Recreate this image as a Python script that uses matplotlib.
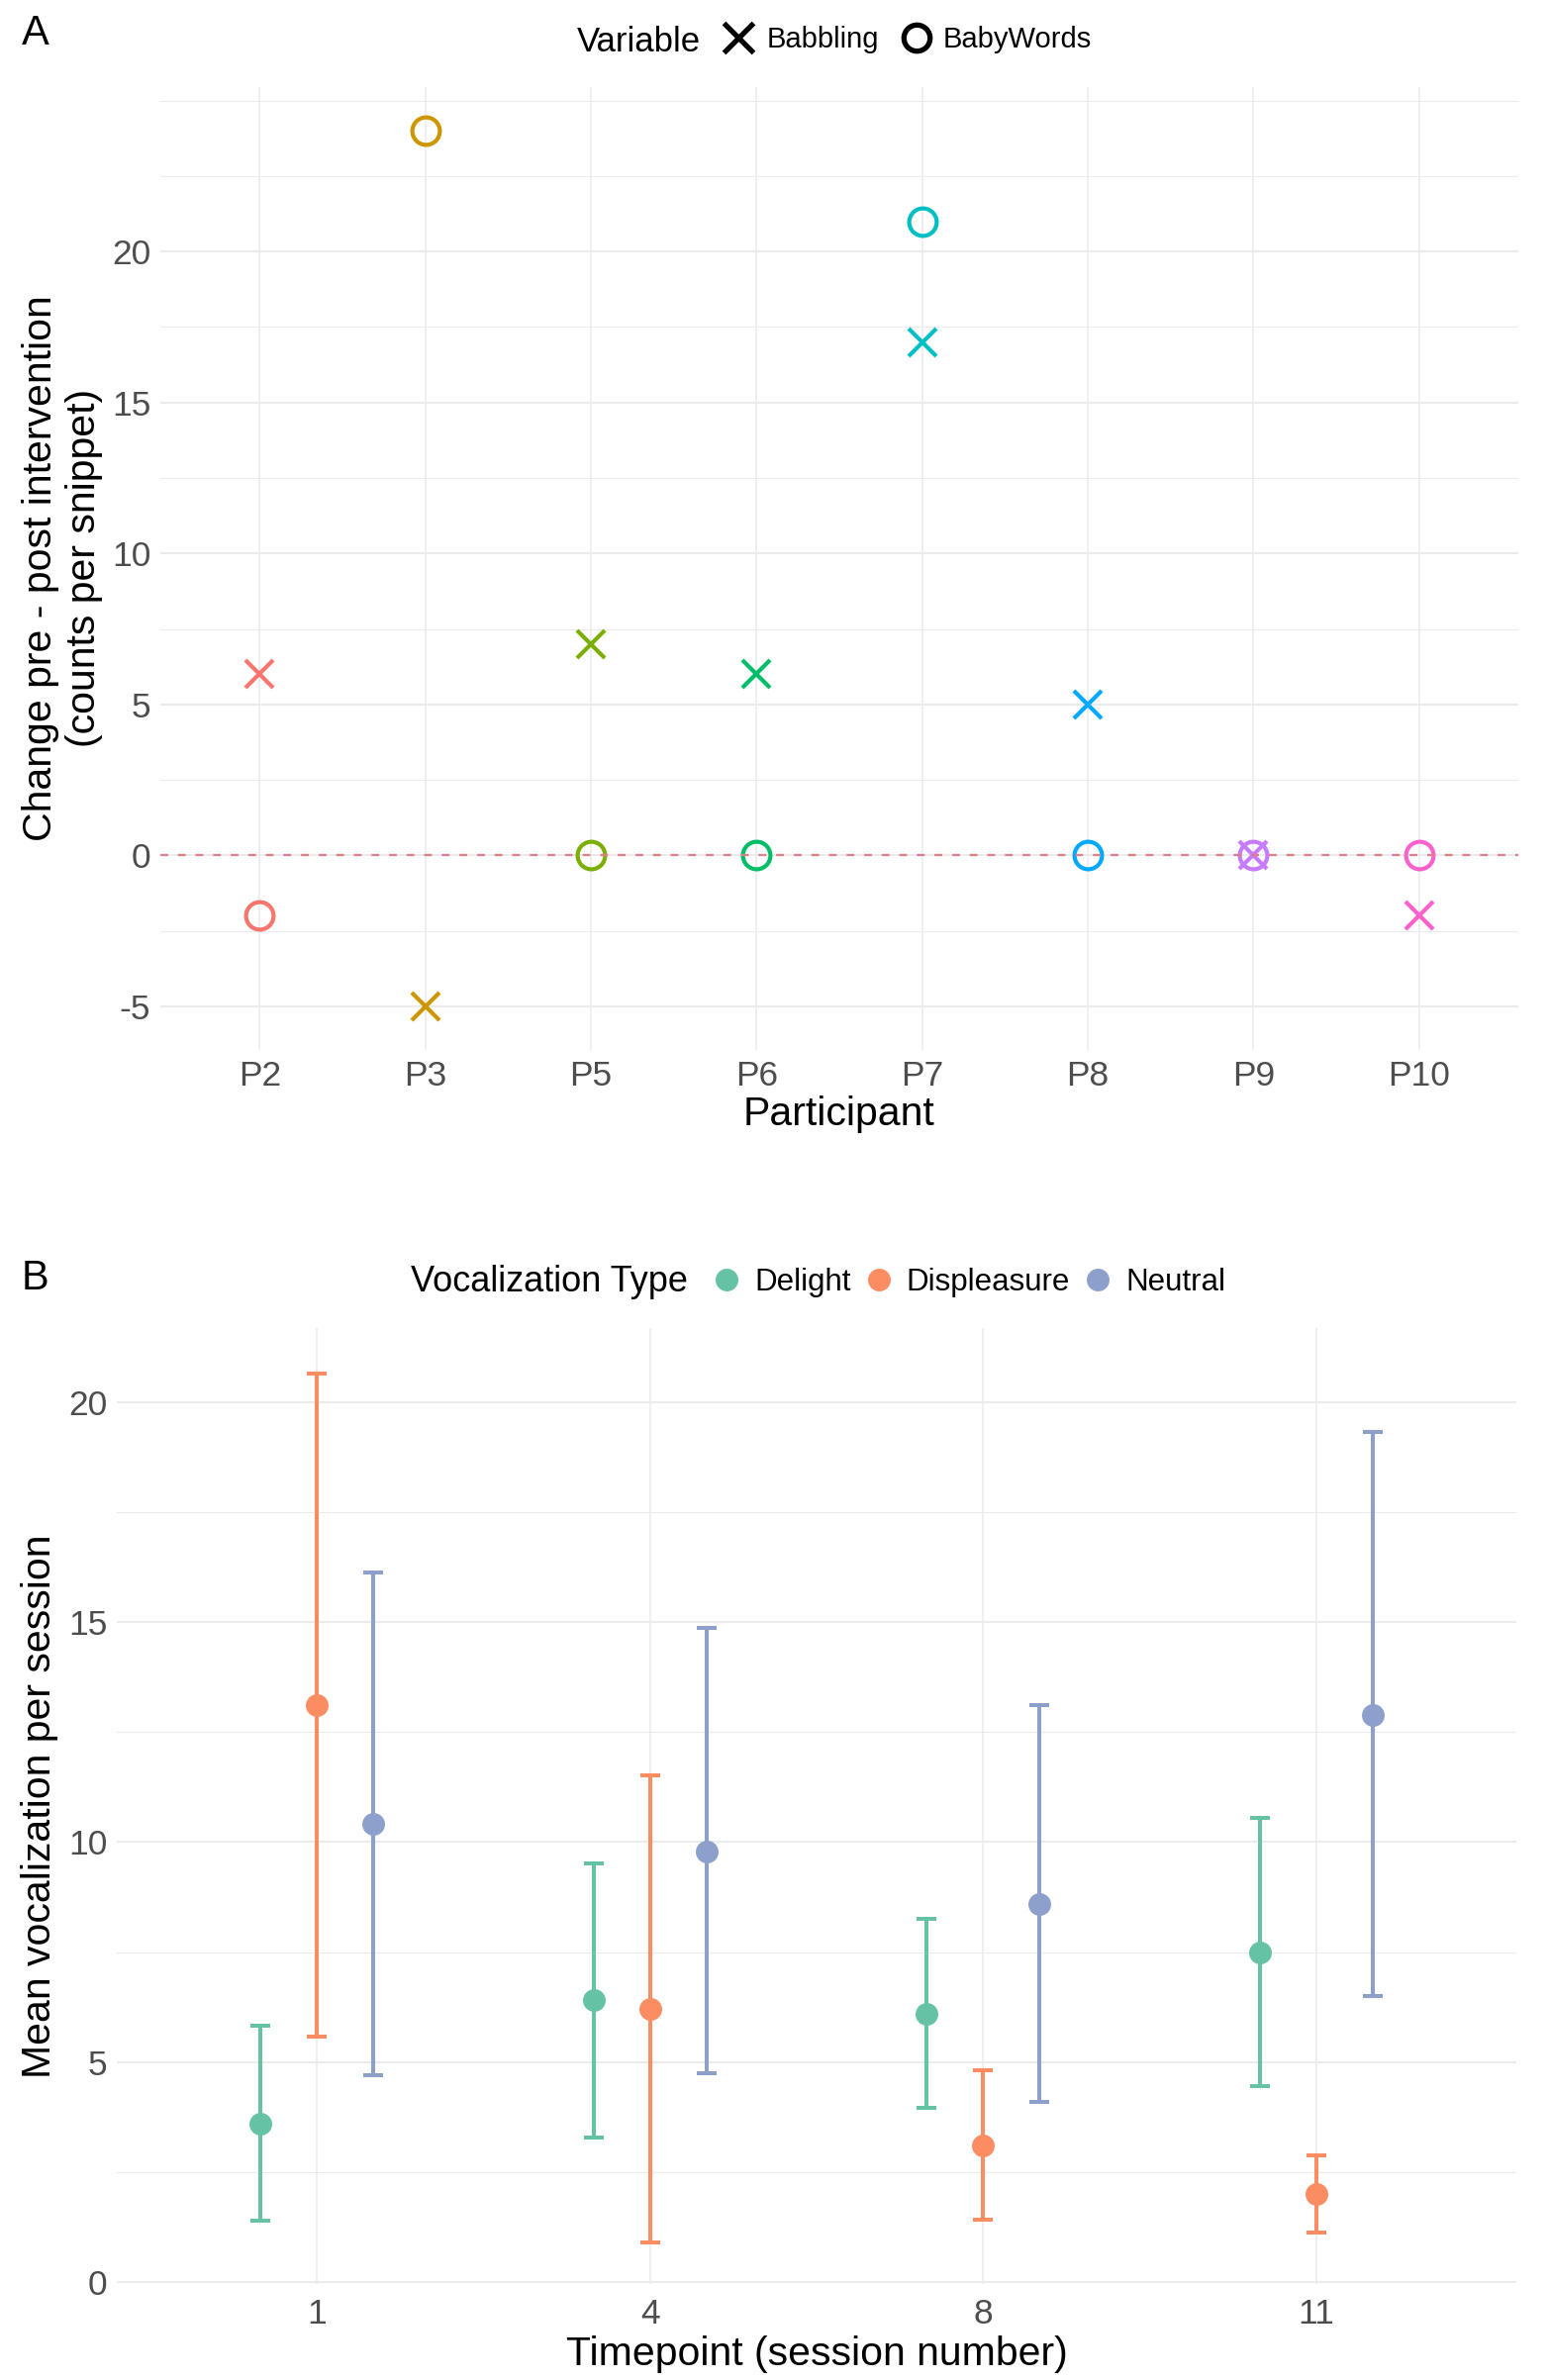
import matplotlib
matplotlib.use('Agg')
import matplotlib.pyplot as plt
from matplotlib.lines import Line2D
from matplotlib.ticker import FixedLocator

plt.rcParams['font.family'] = ['Liberation Sans', 'DejaVu Sans']
plt.rcParams['axes.unicode_minus'] = False

# Panel A: change pre - post intervention per participant
participants = ['P2', 'P3', 'P5', 'P6', 'P7', 'P8', 'P9', 'P10']
babbling = [6, -5, 7, 6, 17, 5, 0, -2]
baby_words = [-2, 24, 0, 0, 21, 0, 0, 0]
participant_colors = ['#F8766D', '#CD9600', '#7CAE00', '#00BE67',
                      '#00BFC4', '#00A9FF', '#C77CFF', '#FF61CC']

# Panel B: mean vocalization per session (mean, lower, upper)
timepoints = ['1', '4', '8', '11']
voc_types = ['Delight', 'Displeasure', 'Neutral']
voc_colors = ['#66C2A5', '#FC8D62', '#8DA0CB']
delight_mean = [3.6, 6.4, 6.1, 7.5]
delight_lo = [1.38, 3.28, 3.95, 4.46]
delight_hi = [5.83, 9.52, 8.25, 10.54]
displeasure_mean = [13.12, 6.2, 3.1, 2.0]
displeasure_lo = [5.58, 0.89, 1.41, 1.13]
displeasure_hi = [20.65, 11.52, 4.8, 2.88]
neutral_mean = [10.42, 9.79, 8.59, 12.9]
neutral_lo = [4.69, 4.74, 4.09, 6.49]
neutral_hi = [16.13, 14.88, 13.12, 19.33]

W, H = 1565, 2405
TICK_COL = '#4D4D4D'
GRID_COL = '#EBEBEB'

fig = plt.figure(figsize=(W / 100, H / 100), dpi=100)


def px_axes(left, top, right, bottom):
    return fig.add_axes([left / W, 1 - bottom / H, (right - left) / W, (bottom - top) / H])


def fx(x):
    return x / W


def fy(y):
    return 1 - y / H


def minimal(ax, pad):
    for s in ax.spines.values():
        s.set_visible(False)
    ax.tick_params(which='both', length=0, labelsize=25.5, labelcolor=TICK_COL)
    ax.tick_params(axis='x', pad=pad)
    ax.tick_params(axis='y', pad=7)
    ax.grid(which='major', axis='y', color=GRID_COL, lw=1.5)
    ax.grid(which='major', axis='x', color=GRID_COL, lw=1.1)
    ax.grid(which='minor', axis='y', color=GRID_COL, lw=0.75)
    ax.set_axisbelow(True)


# ---------------- Panel A ----------------
axA = px_axes(162, 88, 1534, 1061)
minimal(axA, 7)
xa = list(range(len(participants)))
for i, p in enumerate(participants):
    axA.plot(xa[i], babbling[i], marker='x', ms=20.5, mew=3.0, ls='none',
             color=participant_colors[i], zorder=3)
    axA.plot(xa[i], baby_words[i], marker='o', ms=20, mew=3.0, mfc='none', ls='none',
             color=participant_colors[i], zorder=3)
axA.axhline(0, color='#DE7E88', lw=1.6, ls=(0, (3.5, 4.5)), zorder=4)
axA.set_xlim(-0.6, len(participants) - 0.4)
axA.set_ylim(-6.45, 25.45)
axA.set_xticks(xa)
axA.set_xticklabels(participants)
axA.yaxis.set_major_locator(FixedLocator([-5, 0, 5, 10, 15, 20]))
axA.yaxis.set_minor_locator(FixedLocator([-2.5, 2.5, 7.5, 12.5, 17.5, 22.5, 25]))

fig.text(fx(22), fy(45), 'A', fontsize=30, va='baseline', ha='left')
fig.text(fx(848), fy(1137), 'Participant', fontsize=29.5, ha='center', va='baseline')
fig.text(fx(63), fy(574), 'Change pre - post intervention\n(counts per snippet)',
         fontsize=29.5, rotation=90, ha='center', va='center', multialignment='center',
         linespacing=1.2)

# legend A
fig.text(fx(583), fy(52), 'Variable', fontsize=25, va='baseline', ha='left')
fig.add_artist(Line2D([fx(746)], [fy(38)], marker='x', ms=22, mew=3.8, color='black',
                      transform=fig.transFigure))
fig.text(fx(775), fy(48), 'Babbling', fontsize=21, va='baseline', ha='left')
fig.add_artist(Line2D([fx(926)], [fy(38)], marker='o', ms=19, mew=3.8, mfc='none',
                      color='black', transform=fig.transFigure))
fig.text(fx(953), fy(48), 'BabyWords', fontsize=21, va='baseline', ha='left')

# ---------------- Panel B ----------------
axB = px_axes(118, 1342, 1532, 2308)
minimal(axB, 10)
means = [delight_mean, displeasure_mean, neutral_mean]
lows = [delight_lo, displeasure_lo, neutral_lo]
highs = [delight_hi, displeasure_hi, neutral_hi]
offsets = [-0.169, 0.0, 0.169]
xb = list(range(len(timepoints)))
for k, v in enumerate(voc_types):
    xs = [x + offsets[k] for x in xb]
    yerr = [[m - lo for m, lo in zip(means[k], lows[k])],
            [hi - m for m, hi in zip(means[k], highs[k])]]
    axB.errorbar(xs, means[k], yerr=yerr, fmt='none', ecolor=voc_colors[k],
                 elinewidth=2.9, capsize=7.5, capthick=2.9, zorder=3)
    axB.plot(xs, means[k], 'o', color=voc_colors[k], ms=16.5, mew=0, zorder=4, label=v)
axB.set_xlim(-0.6, len(timepoints) - 0.4)
axB.set_ylim(-0.05, 21.69)
axB.set_xticks(xb)
axB.set_xticklabels(timepoints)
axB.yaxis.set_major_locator(FixedLocator([0, 5, 10, 15, 20]))
axB.yaxis.set_minor_locator(FixedLocator([2.5, 7.5, 12.5, 17.5]))

fig.text(fx(22), fy(1303), 'B', fontsize=30, va='baseline', ha='left')
fig.text(fx(825), fy(2390), 'Timepoint (session number)', fontsize=29.5,
         ha='center', va='baseline')
fig.text(fx(40), fy(1825), 'Mean vocalization per session', fontsize=29.5,
         rotation=90, ha='center', va='center')

# legend B
fig.text(fx(415), fy(1305), 'Vocalization Type', fontsize=26, va='baseline', ha='left')
key_x = [734, 888, 1109]
lab_x = [762, 915, 1137]
for k, v in enumerate(voc_types):
    fig.add_artist(Line2D([fx(key_x[k])], [fy(1293)], marker='o', ms=16.5, mew=0,
                          color=voc_colors[k], transform=fig.transFigure))
    fig.text(fx(lab_x[k]), fy(1304), v, fontsize=22.5, va='baseline', ha='left')

fig.savefig('out.png', dpi=100, facecolor='white')
